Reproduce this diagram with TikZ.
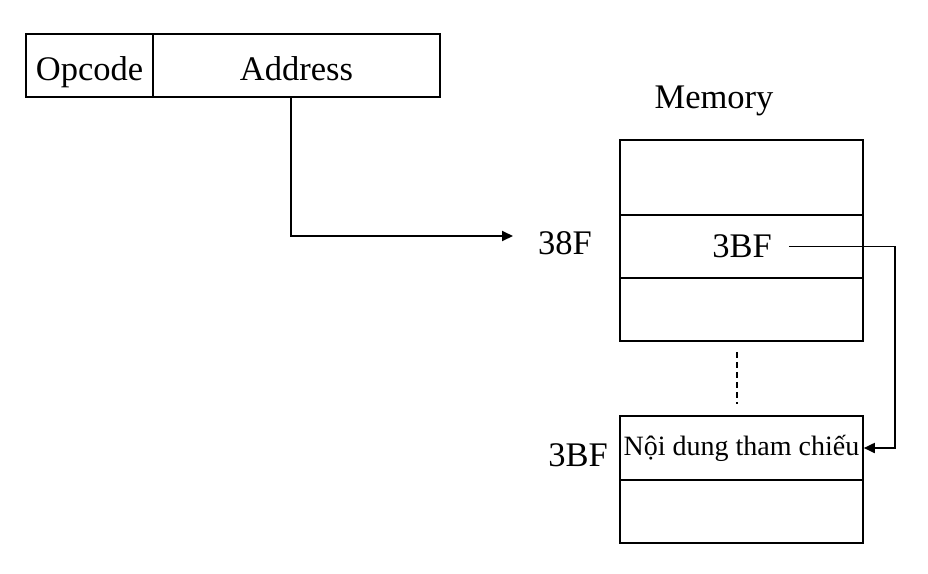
\documentclass[tikz,border=0pt]{standalone}
\usepackage{fontspec}
\setmainfont{Liberation Serif}
\usetikzlibrary{arrows.meta}
\tikzset{
  cell/.style={draw, line width=1.6pt, rectangle, inner sep=0pt, minimum width=243pt},
  ibox/.style={draw, line width=1.6pt, rectangle, inner sep=0pt, minimum height=63pt, text height=29pt, text depth=0pt},
  big/.style={font=\fontsize{34.5}{40}\selectfont, inner sep=0pt},
  conn/.style={line width=1.8pt, -{Triangle[length=11pt,width=10pt]}},
}
\begin{document}
\begin{tikzpicture}[x=1pt,y=-1pt]
\useasboundingbox (0,0) rectangle (928,573);
% instruction
\node[ibox, big, minimum width=127pt] (opcode) at (89.5,65.5) {Opcode};
\node[ibox, big, minimum width=287pt] (address) at (296.5,65.5) {Address};
% memory
\node[big, anchor=base] (memlbl) at (714,108) {Memory};
\node[cell, minimum height=75pt] (cell1) at (741.5,177.5) {};
\node[cell, minimum height=63pt] (cell2) at (741.5,246.5) {};
\node[cell, minimum height=63pt] (cell3) at (741.5,309.5) {};
\node[cell, minimum height=64pt, font=\fontsize{28}{32}\selectfont] (cell4) at (741.5,448) {Nội dung tham chiếu};
\node[cell, minimum height=63pt] (cell5) at (741.5,511.5) {};
\node[big] (v3bf) at (742,246.5) {3BF};
\node[big] (l38) at (565,243.5) {38F};
\node[big] (l3bf) at (578,455.5) {3BF};
\coordinate (d1) at (737,352);
\coordinate (d2) at (737,404);
\draw[line width=1.6pt, dash pattern=on 6pt off 4pt] (d1) -- (d2);
% connectors
\coordinate (a38) at (513,236);
\draw[conn] ([xshift=-5.5pt]address.south) |- (a38);
\coordinate (turn) at (895,448);
\draw[conn] ([xshift=17pt]v3bf.east) -| (turn) -- (cell4.east);
\end{tikzpicture}
\end{document}
